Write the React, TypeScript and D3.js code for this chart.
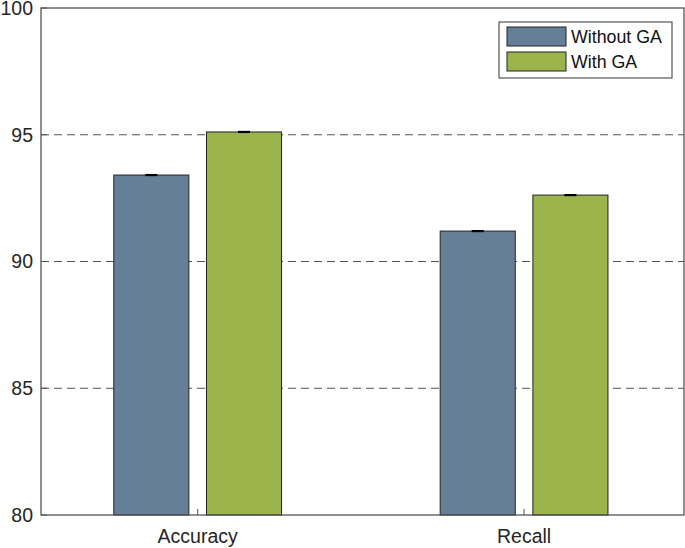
import * as d3 from "d3";
import React from "react";

const categories = ["Accuracy", "Recall"];
const seriesNames = ["Without GA", "With GA"];
const seriesColors = ["#657f99", "#9bb44c"];
const withoutGA = [93.41, 91.2];
const withGA = [95.11, 92.62];
const errWithout = [0.02, 0.02];
const errWith = [0.02, 0.02];
const yTicks = [80, 85, 90, 95, 100];

const W = 685;
const H = 548;
const margin = { top: 8, right: 1, bottom: 33, left: 41 };
const font = "'Liberation Sans', Arial, sans-serif";

const App = () => {
	const innerW = W - margin.left - margin.right;
	const innerH = H - margin.top - margin.bottom;

	const x = d3.scaleLinear().domain([0.52, 2.49]).range([0, innerW]);
	const y = d3.scaleLinear().domain([80, 100]).range([innerH, 0]);

	const barW = x(0.23) - x(0);
	const offset = 0.142;
	const series = [
		{ values: withoutGA, err: errWithout, dx: -offset },
		{ values: withGA, err: errWith, dx: offset },
	];

	return (
		<svg width={W} height={H} style={{ position: "absolute", left: 0, top: 0 }}>
			<rect width={W} height={H} fill="#fff" />
			<g transform={`translate(${margin.left},${margin.top})`}>
				{yTicks
					.filter((t) => t > 80 && t < 100)
					.map((t) => (
						<line
							key={t}
							x1={0}
							x2={innerW}
							y1={y(t)}
							y2={y(t)}
							stroke="#555"
							strokeWidth={1}
							strokeDasharray="8,5"
						/>
					))}
				{series.map((s, si) =>
					s.values.map((v, ci) => {
						const cx = x(ci + 1 + s.dx);
						return (
							<g key={`${si}-${ci}`}>
								<rect
									x={cx - barW / 2}
									y={y(v)}
									width={barW}
									height={y(80) - y(v)}
									fill={seriesColors[si]}
									stroke="#222"
									strokeWidth={1}
								/>
								<line x1={cx} x2={cx} y1={y(v + s.err[ci])} y2={y(v - s.err[ci])} stroke="#000" />
								<line x1={cx - 6} x2={cx + 6} y1={y(v + s.err[ci])} y2={y(v + s.err[ci])} stroke="#000" strokeWidth={1.2} />
								<line x1={cx - 6} x2={cx + 6} y1={y(v - s.err[ci])} y2={y(v - s.err[ci])} stroke="#000" strokeWidth={1.2} />
							</g>
						);
					})
				)}
				<rect x={0} y={0} width={innerW} height={innerH} fill="none" stroke="#555" strokeWidth={1.3} />
				{yTicks.map((t) => (
					<g key={t}>
						<line x1={0} x2={6} y1={y(t)} y2={y(t)} stroke="#555" />
						<text
							x={-8}
							y={y(t)}
							dy="0.35em"
							textAnchor="end"
							fontFamily={font}
							fontSize={19.5}
							fill="#262626"
						>
							{t}
						</text>
					</g>
				))}
				{categories.map((c, i) => (
					<g key={c}>
						<line x1={x(i + 1)} x2={x(i + 1)} y1={innerH} y2={innerH - 6} stroke="#555" />
						<text
							x={x(i + 1)}
							y={innerH + 28}
							textAnchor="middle"
							fontFamily={font}
							fontSize={19.5}
							fill="#262626"
						>
							{c}
						</text>
					</g>
				))}
			</g>
			<g transform="translate(499,22)">
				<rect x={0} y={0} width={173} height={56} fill="#fff" stroke="#333" strokeWidth={1} />
				{seriesNames.map((n, i) => (
					<g key={n} transform={`translate(0,${5 + i * 25})`}>
						<rect x={8} y={0} width={59} height={19} fill={seriesColors[i]} stroke="#222" />
						<text x={72} y={10} dy="0.35em" fontFamily={font} fontSize={17.8} fill="#111">
							{n}
						</text>
					</g>
				))}
			</g>
		</svg>
	);
};

export default App;
